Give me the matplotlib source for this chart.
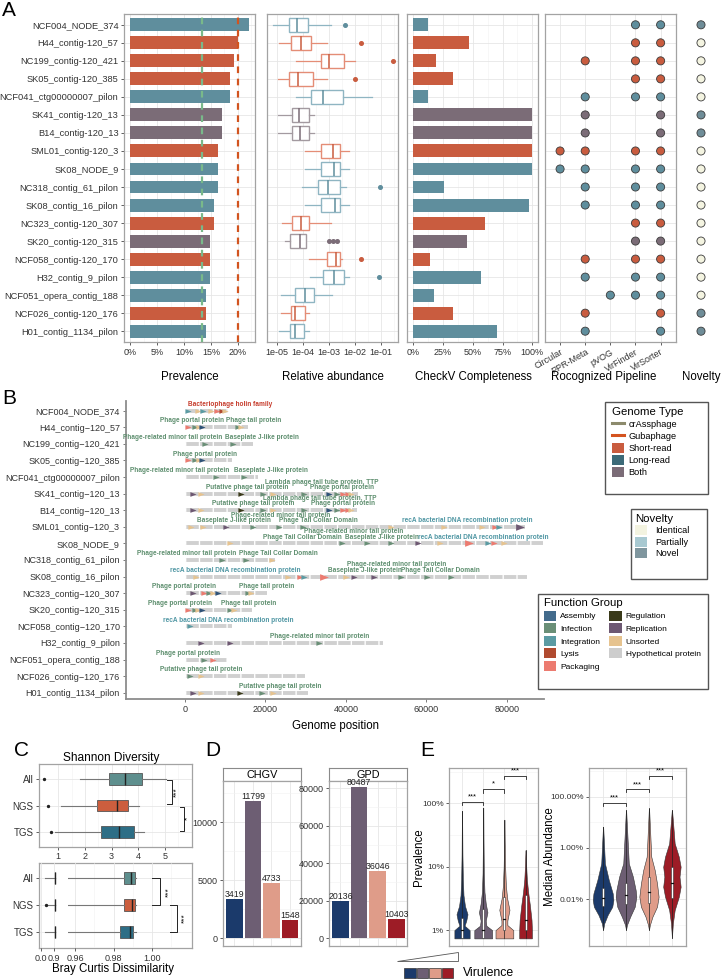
import numpy as np
import matplotlib.pyplot as plt
from matplotlib.patches import Patch, Polygon, Rectangle
from matplotlib.lines import Line2D
from matplotlib.ticker import FixedLocator, NullFormatter

plt.rcParams['font.family'] = ['Liberation Sans', 'DejaVu Sans']

W, H = 722, 980

# ---------------- data: panel A ----------------
contigs = ['NCF004_NODE_374', 'H44_contig-120_57', 'NC199_contig-120_421', 'SK05_contig-120_385',
           'NCF041_ctg00000007_pilon', 'SK41_contig-120_13', 'B14_contig-120_13', 'SML01_contig-120_3',
           'SK08_NODE_9', 'NC318_contig_61_pilon', 'SK08_contig_16_pilon', 'NC323_contig-120_307',
           'SK20_contig-120_315', 'NCF058_contig-120_170', 'H32_contig_9_pilon', 'NCF051_opera_contig_188',
           'NCF026_contig-120_176', 'H01_contig_1134_pilon']
seq_type = ['Long-read', 'Short-read', 'Short-read', 'Short-read', 'Long-read', 'Both', 'Both',
            'Short-read', 'Long-read', 'Long-read', 'Long-read', 'Short-read', 'Both', 'Short-read',
            'Long-read', 'Long-read', 'Short-read', 'Long-read']
prevalence = [22.1, 20.0, 19.2, 18.5, 18.5, 17.0, 17.0, 16.3, 16.3, 16.3, 15.5, 15.5, 14.8, 14.8,
              14.8, 14.1, 14.1, 14.1]
crass_cut = 13.4
guba_cut = 20.0

# relative abundance box stats (log10)
ab_whislo = [-5.14, -4.91, -4.27, -4.95, -4.27, -4.97, -4.95, -3.91, -3.92, -4.04, -3.92, -4.82,
             -4.68, -3.78, -3.72, -4.83, -4.86, -4.91]
ab_q1 = [-4.53, -4.47, -3.32, -4.55, -3.69, -4.41, -4.43, -3.31, -3.30, -3.41, -3.30, -4.42,
         -4.50, -3.07, -3.24, -4.30, -4.47, -4.49]
ab_med = [-4.22, -4.07, -3.01, -4.17, -3.22, -4.14, -4.13, -2.85, -2.80, -3.04, -2.78, -4.09,
          -4.12, -2.73, -2.82, -3.93, -4.30, -4.30]
ab_q3 = [-3.81, -3.70, -2.40, -3.63, -2.47, -3.78, -3.78, -2.57, -2.57, -2.58, -2.57, -3.78,
         -3.88, -2.57, -2.41, -3.59, -3.93, -3.95]
ab_whishi = [-2.92, -3.09, -2.01, -3.09, -1.33, -3.58, -3.58, -2.22, -2.22, -2.35, -2.22, -2.92,
             -3.88, -2.50, -2.24, -2.88, -3.78, -3.78]
ab_fliers = [[-2.37], [-1.77], [-0.55], [-2.0], [], [], [], [], [], [-1.04], [], [],
             [-3.01, -2.86, -2.70], [-1.78], [-1.09], [], [], []]

checkv = [12.8, 47, 19.4, 33.6, 12.8, 100, 100, 100, 100, 26.2, 97.5, 60, 45, 14, 57, 17, 33, 70]

pipelines = ['Circular', 'PPR-Meta', 'pVOG', 'VirFinder', 'VirSorter']
pipeline_hits = [
    [0, 0, 0, 1, 1], [0, 0, 0, 1, 1], [0, 1, 0, 1, 1], [0, 0, 0, 1, 1], [0, 1, 0, 1, 1],
    [0, 1, 0, 0, 1], [0, 1, 0, 0, 1], [1, 1, 0, 1, 1], [1, 1, 0, 1, 1], [0, 1, 0, 1, 1],
    [0, 1, 0, 1, 1], [0, 0, 0, 1, 1], [0, 0, 0, 1, 1], [0, 1, 0, 1, 1], [0, 1, 0, 1, 1],
    [0, 0, 1, 1, 1], [0, 1, 0, 0, 1], [0, 1, 0, 0, 1]]
novelty = ['Novel', 'Identical', 'Identical', 'Identical', 'Identical', 'Novel', 'Novel',
           'Identical', 'Identical', 'Identical', 'Identical', 'Identical', 'Identical',
           'Identical', 'Identical', 'Identical', 'Novel', 'Novel']

# ---------------- data: panel B ----------------
genome_len_kb = [10.8, 15.8, 17.0, 11.7, 18.3, 43.0, 42.7, 84.5, 89.0, 22.4, 85.0, 20.4, 16.6,
                 11.7, 49.3, 10.4, 29.9, 30.6]
genes = [
    [(0.9, 'Integration'), (3.4, 'Unsorted'), (4.5, 'Integration'), (6.5, 'Unsorted'),
     (7.9, 'Packaging'), (9.2, 'Lysis'), (10.0, 'Unsorted')],
    [(0.9, 'Packaging'), (2.6, 'Infection'), (3.6, 'Unsorted'), (4.4, 'Assembly'),
     (13.1, 'Infection'), (13.9, 'Unsorted')],
    [(5.0, 'Infection'), (12.1, 'Infection')],
    [(0.9, 'Packaging'), (2.6, 'Infection'), (3.6, 'Unsorted'), (4.4, 'Assembly')],
    [(7.8, 'Infection'), (14.8, 'Infection')],
    [(2.1, 'Replication'), (4.0, 'Unsorted'), (13.9, 'Regulation'), (19.5, 'Infection'),
     (22.0, 'Unsorted'), (29.5, 'Infection'), (35.9, 'Assembly'), (37.9, 'Infection'),
     (39.2, 'Packaging'), (40.5, 'Packaging'), (41.3, 'Unsorted')],
    [(2.1, 'Replication'), (4.0, 'Unsorted'), (13.9, 'Regulation'), (19.5, 'Infection'),
     (22.0, 'Unsorted'), (29.5, 'Infection'), (35.9, 'Assembly'), (37.9, 'Infection'),
     (39.2, 'Packaging'), (40.5, 'Packaging'), (41.3, 'Unsorted')],
    [(1.6, 'Unsorted'), (4.6, 'Unsorted'), (10.3, 'Replication'), (16.9, 'Infection'),
     (23.5, 'Infection'), (29.3, 'Infection'), (51.2, 'Unsorted'), (64.3, 'Unsorted'),
     (73.8, 'Unsorted'), (77.1, 'Packaging'), (78.1, 'Integration'), (83.3, 'Replication', 2)],
    [(11.3, 'Unsorted'), (39.0, 'Infection'), (45.2, 'Infection'), (51.2, 'Infection'),
     (58.0, 'Replication'), (63.3, 'Unsorted'), (70.5, 'Packaging', 2), (75.4, 'Integration'),
     (76.7, 'Packaging'), (79.2, 'Unsorted')],
    [(9.2, 'Infection'), (15.2, 'Infection'), (21.6, 'Unsorted')],
    [(2.8, 'Unsorted'), (25.7, 'Unsorted'), (28.6, 'Packaging'), (29.7, 'Integration'),
     (34.6, 'Packaging', 2), (40.1, 'Unsorted'), (41.9, 'Replication'), (46.9, 'Replication'),
     (53.7, 'Infection'), (60.1, 'Infection'), (66.2, 'Infection')],
    [(2.0, 'Replication'), (4.8, 'Packaging'), (6.1, 'Infection'), (7.1, 'Unsorted'),
     (8.2, 'Assembly'), (15.7, 'Infection'), (16.5, 'Unsorted')],
    [(0.7, 'Packaging'), (2.6, 'Infection'), (3.2, 'Unsorted'), (4.2, 'Assembly'),
     (11.3, 'Infection'), (12.3, 'Unsorted')],
    [(1.3, 'Integration')],
    [(4.0, 'Replication'), (11.3, 'Replication'), (33.4, 'Infection')],
    [(4.8, 'Infection'), (6.9, 'Packaging')],
    [(1.3, 'Infection'), (4.0, 'Unsorted')],
    [(2.1, 'Replication'), (4.0, 'Unsorted'), (13.7, 'Regulation'), (19.1, 'Infection'),
     (22.0, 'Unsorted')],
]
gene_labels = [
    [(11.3, 'Bacteriophage holin family', 1)],
    [(1.7, 'Phage portal protein', 1), (17.0, 'Phage tail protein', 1)],
    [(-2.9, 'Phage-related minor tail protein', 1), (19.1, 'Baseplate J-like protein', 1)],
    [(5.0, 'Phage portal protein', 1)],
    [(-1.2, 'Phage-related minor tail protein', 1), (21.4, 'Baseplate J-like protein', 1)],
    [(15.4, 'Putative phage tail protein', 1), (34.0, 'Lambda phage tail tube protein, TTP', 2),
     (39.0, 'Phage portal protein', 1)],
    [(17.0, 'Putative phage tail protein', 1), (33.6, 'Lambda phage tail tube protein, TTP', 2),
     (39.2, 'Phage portal protein', 1)],
    [(12.1, 'Baseplate J-like protein', 1), (23.7, 'Phage-related minor tail protein', 2),
     (33.2, 'Phage Tail Collar Domain', 1), (70.1, 'recA bacterial DNA recombination protein', 1)],
    [(29.1, 'Phage Tail Collar Domain', 1), (41.9, 'Phage-related minor tail protein', 2),
     (48.9, 'Baseplate J-like protein', 1), (74.2, 'recA bacterial DNA recombination protein', 1)],
    [(0.5, 'Phage-related minor tail protein', 1), (23.3, 'Phage Tail Collar Domain', 1)],
    [(12.5, 'recA bacterial DNA recombination protein', 1), (44.8, 'Baseplate J-like protein', 1),
     (52.7, 'Phage-related minor tail protein', 2), (63.5, 'Phage Tail Collar Domain', 1)],
    [(-0.3, 'Phage portal protein', 1), (20.4, 'Phage tail protein', 1)],
    [(-1.2, 'Phage portal protein', 1), (15.8, 'Phage tail protein', 1)],
    [(10.8, 'recA bacterial DNA recombination protein', 1)],
    [(33.6, 'Phage-related minor tail protein', 1)],
    [(0.9, 'Phage portal protein', 1)],
    [(4.0, 'Putative phage tail protein', 1)],
    [(23.7, 'Putative phage tail protein', 1)],
]

# ---------------- data: panel C ----------------
groups = ['All', 'NGS', 'TGS']
sh_whislo = [1.81, 1.09, 0.88]
sh_q1 = [2.91, 2.47, 2.62]
sh_med = [3.51, 3.22, 3.29]
sh_q3 = [4.14, 3.62, 3.82]
sh_whishi = [5.03, 4.03, 4.20]
sh_fliers = [[0.46], [0.63], [0.72]]

bc_whislo = [0.28, 0.38, 0.28]
bc_q1 = [0.9852, 0.9852, 0.9835]
bc_med = [0.9892, 0.9899, 0.9884]
bc_q3 = [0.9910, 0.9913, 0.9904]
bc_whishi = [0.9917, 0.9919, 0.9917]
bc_fliers = [[], [0.33], []]

# ---------------- data: panel D ----------------
vir_levels = ['1', '2', '3', '4']
chgv_counts = [3419, 11799, 4733, 1548]
gpd_counts = [20136, 80487, 36046, 10403]

# ---------------- data: panel E (violin outlines, log10) ----------------
prev_levels = [
    [-2.13, -2.0, -1.93, -1.85, -1.75, -1.62, -1.45, -1.2, -0.8, -0.12],
    [-2.13, -2.0, -1.93, -1.85, -1.72, -1.58, -1.4, -1.1, -0.6, -0.07],
    [-2.13, -2.0, -1.92, -1.85, -1.68, -1.5, -1.3, -1.0, -0.6, -0.26],
    [-2.13, -2.0, -1.84, -1.6, -1.4, -1.2, -1.0, -0.74],
]
prev_width = [
    [0.36, 0.36, 0.12, 0.2, 0.26, 0.14, 0.07, 0.04, 0.02, 0.005],
    [0.42, 0.42, 0.15, 0.12, 0.2, 0.12, 0.06, 0.03, 0.015, 0.005],
    [0.42, 0.42, 0.14, 0.14, 0.24, 0.13, 0.07, 0.035, 0.015, 0.005],
    [0.3, 0.3, 0.28, 0.2, 0.12, 0.06, 0.03, 0.005],
]
prev_box = [(-2.13, -2.0, -1.81), (-2.13, -2.0, -1.66), (-2.0, -1.82, -1.47), (-2.0, -1.84, -1.45)]

abun_levels = [
    [-5.2, -4.94, -4.61, -4.29, -4.03, -3.77, -3.25, -2.6, -1.17],
    [-5.2, -5.0, -4.68, -4.29, -3.9, -3.64, -3.12, -2.6, -0.52],
    [-5.2, -5.0, -4.68, -4.29, -3.9, -3.38, -2.86, -2.34, -0.45],
    [-5.52, -4.94, -4.42, -3.9, -3.51, -3.12, -2.73, -2.34, -1.82, -0.52],
]
abun_width = [
    [0.0, 0.05, 0.2, 0.4, 0.45, 0.42, 0.25, 0.08, 0.005],
    [0.0, 0.04, 0.18, 0.38, 0.45, 0.42, 0.3, 0.12, 0.005],
    [0.0, 0.04, 0.15, 0.35, 0.42, 0.35, 0.25, 0.1, 0.005],
    [0.0, 0.04, 0.12, 0.3, 0.38, 0.33, 0.38, 0.3, 0.12, 0.005],
]
abun_box = [(-4.26, -3.96, -3.57), (-4.18, -3.83, -3.38), (-4.13, -3.70, -3.12), (-3.96, -3.38, -2.75)]

# ---------------- colours ----------------
bar_col = {'Short-read': '#c95c3f', 'Long-read': '#5f8e9d', 'Both': '#7b6c77'}
box_light = {'Short-read': '#e48d76', 'Long-read': '#8fb5c2', 'Both': '#a39aa0'}
legend_type_col = {'Short-read': '#c95c3f', 'Long-read': '#3c6a78', 'Both': '#7b6c77'}
nov_col = {'Identical': '#f4f4e1', 'Partially': '#a8c9d1', 'Novel': '#6f8d98'}
nov_leg_col = {'Identical': '#f3f3e0', 'Partially': '#a8c9d1', 'Novel': '#7f969e'}
fg_col = {'Assembly': '#2f5378', 'Infection': '#6a8f77', 'Integration': '#5b9ba3',
          'Lysis': '#b04a2f', 'Packaging': '#ec7b70', 'Regulation': '#3a3a1a',
          'Replication': '#6d5872', 'Unsorted': '#e6c38f', 'Hypothetical protein': '#cdcdcd'}
fg_leg_col = dict(fg_col, Assembly='#436b8c')
vir_col = ['#1b3a6b', '#6d5e73', '#df9c89', '#9d1c26']

fig = plt.figure(figsize=(7.22, 9.8), dpi=100)


def add_ax(l, t, r, b):
    return fig.add_axes([l / W, 1 - b / H, (r - l) / W, (b - t) / H])


def ftext(x, y, s, **kw):
    fig.text(x / W, 1 - y / H, s, **kw)


def bw(ax):
    ax.set_facecolor('white')
    for sp in ax.spines.values():
        sp.set_color('#a3a3a3')
        sp.set_linewidth(0.9)
    ax.grid(True, which='major', color='#e6e6e6', lw=0.6)
    ax.grid(True, which='minor', color='#f2f2f2', lw=0.4)
    ax.set_axisbelow(True)
    ax.tick_params(which='major', length=2.5, width=0.6, color='#444444', labelsize=6.5,
                   labelcolor='#333333', pad=1.5)
    ax.tick_params(which='minor', length=0)


n = len(contigs)
ypos = np.arange(n)
ylimA = (n - 0.4, -0.6)

# ---------- A: prevalence ----------
axP = add_ax(124, 14, 255, 342)
bw(axP)
axP.barh(ypos, prevalence, height=0.72, color=[bar_col[t] for t in seq_type], zorder=2)
axP.axvline(crass_cut, color='#79b98a', lw=1.6, dashes=(3, 2.5), zorder=3)
axP.axvline(guba_cut, color='#d2541f', lw=1.6, dashes=(3, 2.5), zorder=3)
axP.set_xlim(-1.2, 23.2)
axP.set_ylim(*ylimA)
axP.set_xticks([0, 5, 10, 15, 20])
axP.set_xticklabels(['0%', '5%', '10%', '15%', '20%'])
axP.xaxis.set_minor_locator(FixedLocator([2.5, 7.5, 12.5, 17.5, 22.5]))
axP.set_yticks(ypos)
axP.set_yticklabels(contigs, fontsize=6.7)

# ---------- A: relative abundance ----------
axR = add_ax(267.3, 14, 398.3, 342)
bw(axR)
ab_stats = []
for i in range(n):
    ab_stats.append(dict(whislo=10 ** ab_whislo[i], q1=10 ** ab_q1[i], med=10 ** ab_med[i],
                         q3=10 ** ab_q3[i], whishi=10 ** ab_whishi[i],
                         fliers=[10 ** f for f in ab_fliers[i]]))
bp = axR.bxp(ab_stats, positions=ypos, orientation='horizontal', widths=0.75,
             showcaps=False, patch_artist=True)
for i, t in enumerate(seq_type):
    bp['boxes'][i].set(facecolor='white', edgecolor=box_light[t], lw=1.0)
    bp['medians'][i].set(color=bar_col[t], lw=1.1)
    for w in bp['whiskers'][2 * i:2 * i + 2]:
        w.set(color=box_light[t], lw=0.9)
    bp['fliers'][i].set(marker='o', markerfacecolor=bar_col[t], markeredgecolor=bar_col[t],
                        markersize=2.6)
axR.set_xscale('log')
axR.set_xlim(10 ** -5.37, 10 ** -0.33)
axR.set_xticks([1e-5, 1e-4, 1e-3, 1e-2, 1e-1])
axR.set_xticklabels(['1e-05', '1e-04', '1e-03', '1e-02', '1e-01'])
axR.xaxis.set_minor_locator(FixedLocator([10 ** (k + 0.5) for k in range(-6, 0)]))
axR.xaxis.set_minor_formatter(NullFormatter())
axR.set_ylim(*ylimA)
axR.set_yticks(ypos)
axR.tick_params(axis='y', length=0, labelleft=False)

# ---------- A: CheckV ----------
axC = add_ax(407.3, 14, 538.3, 342)
bw(axC)
axC.barh(ypos, checkv, height=0.72, color=[bar_col[t] for t in seq_type], zorder=2)
axC.set_xlim(-5, 105)
axC.set_ylim(*ylimA)
axC.set_xticks([0, 25, 50, 75, 100])
axC.set_xticklabels(['0%', '25%', '50%', '75%', '100%'])
axC.xaxis.set_minor_locator(FixedLocator([12.5, 37.5, 62.5, 87.5]))
axC.set_yticks(ypos)
axC.tick_params(axis='y', length=0, labelleft=False)

# ---------- A: pipelines ----------
axV = add_ax(545, 14, 675.7, 342)
bw(axV)
px, py, pc = [], [], []
for i, row in enumerate(pipeline_hits):
    for j, v in enumerate(row):
        if v:
            px.append(j)
            py.append(i)
            pc.append(bar_col[seq_type[i]])
axV.scatter(px, py, s=34, c=pc, edgecolors='#3a3a3a', linewidths=0.6, zorder=3)
axV.set_xlim(-0.6, 4.6)
axV.set_ylim(*ylimA)
axV.set_xticks(range(len(pipelines)))
axV.set_xticklabels(pipelines, rotation=30, ha='right', va='top', rotation_mode='anchor')
axV.set_yticks(ypos)
axV.tick_params(axis='y', length=0, labelleft=False)

# ---------- A: novelty ----------
axN = add_ax(688, 14, 714, 342)
axN.axis('off')
axN.scatter(np.zeros(n), ypos, s=34, c=[nov_col[v] for v in novelty], edgecolors='#3a3a3a',
            linewidths=0.6)
axN.set_xlim(-1, 1)
axN.set_ylim(*ylimA)

for x, s in [(190, 'Prevalence'), (333, 'Relative abundance'), (473, 'CheckV Completeness'),
             (604, 'Rocognized Pipeline'), (701.7, 'Novelty')]:
    ftext(x, 377, s, ha='center', va='center', fontsize=8.3)

# ---------- B: genome maps ----------
axB = add_ax(126, 401, 544, 699)
for i, L in enumerate(genome_len_kb):
    axB.plot([0, L * 1000], [i, i], color='#d0d0d0', lw=2.8, solid_capstyle='butt', zorder=1)
    axB.plot([0, L * 1000], [i, i], color='white', lw=2.8, dashes=(0.35, 3.2), zorder=1.5)
    for g in genes[i]:
        f = g[2] if len(g) > 2 else 1
        axB.scatter(g[0] * 1000, i, marker=[(-1, -0.75), (1, 0), (-1, 0.75)], s=20 * f,
                    color=fg_col[g[1]], linewidths=0, zorder=3)
    for kb, txt, lev in gene_labels[i]:
        if txt.startswith('recA'):
            c = '#4f96a3'
        elif txt.startswith('Bacteriophage'):
            c = '#c63c2c'
        else:
            c = '#5e8f6f'
        axB.text(kb * 1000, i - (0.38 if lev == 1 else 0.7), txt, fontsize=4.7, fontweight='bold',
                 color=c, ha='center', va='center', zorder=4)
axB.set_xlim(-14584, 89190)
axB.set_ylim(n - 1 + 0.38, -0.585)
for s in ['top', 'right']:
    axB.spines[s].set_visible(False)
for s in ['left', 'bottom']:
    axB.spines[s].set_color('#8c8c8c')
    axB.spines[s].set_linewidth(1.3)
axB.set_yticks(ypos)
axB.set_yticklabels([c.replace('-', '\u2212') for c in contigs], fontsize=6.7)
axB.set_xticks([0, 20000, 40000, 60000, 80000])
axB.set_xticklabels(['0', '20000', '40000', '60000', '80000'])
axB.tick_params(length=2.5, width=0.6, color='#666666', labelsize=6.5, labelcolor='#333333', pad=2)
axB.set_xlabel('Genome position', fontsize=8.3, labelpad=4)


# legends: frameless legend + hand-drawn box (ggplot style boxes with extra right margin)
def legend_box(l, t, r, b):
    fig.patches.append(Rectangle((l / W, 1 - b / H), (r - l) / W, (b - t) / H,
                                 transform=fig.transFigure, fill=False, edgecolor='#555555',
                                 lw=1.0, zorder=5))


leg_kw = dict(loc='upper left', title_fontsize=8.2, frameon=False, alignment='left',
              borderpad=0, borderaxespad=0)
legend_box(605, 402.3, 707.7, 494)
fig.legend(handles=[Line2D([], [], color='#8c8a6c', lw=2.2),
                    Line2D([], [], color='#d4531f', lw=2.2)] +
           [Patch(facecolor=legend_type_col[k]) for k in ['Short-read', 'Long-read', 'Both']],
           labels=['crAssphage', 'Gubaphage', 'Short-read', 'Long-read', 'Both'],
           title='Genome Type', bbox_to_anchor=(612 / W, 1 - 407 / H), fontsize=6.6,
           handlelength=1.3, handleheight=1.3, labelspacing=0.22, handletextpad=0.5, **leg_kw)
nov_names = ['Identical', 'Partially', 'Novel']
legend_box(630.7, 509, 707.3, 579.3)
fig.legend(handles=[Patch(facecolor=nov_leg_col[k]) for k in nov_names], labels=nov_names,
           title='Novelty', bbox_to_anchor=(635 / W, 1 - 514 / H), fontsize=6.6,
           handlelength=1.3, handleheight=1.3, labelspacing=0.15, handletextpad=0.9, **leg_kw)
fg_names = list(fg_col.keys())
legend_box(538.3, 594, 707.7, 689.3)
fig.legend(handles=[Patch(facecolor=fg_leg_col[k]) for k in fg_names], labels=fg_names,
           title='Function Group', ncol=2, bbox_to_anchor=(544 / W, 1 - 598 / H), fontsize=6.0,
           handlelength=1.45, handleheight=1.45, labelspacing=0.32, handletextpad=0.5,
           columnspacing=1.1, **leg_kw)

# ---------- C: Shannon ----------
grp_col = ['#5e8f8e', '#cc5e3e', '#2d6e86']


def style_box(bp, cols):
    for i, c in enumerate(cols):
        bp['boxes'][i].set(facecolor=c, edgecolor='#555555', lw=0.6)
        bp['medians'][i].set(color='#222222', lw=1.0)
        for w in bp['whiskers'][2 * i:2 * i + 2]:
            w.set(color='#777777', lw=0.8)
        bp['fliers'][i].set(marker='o', markerfacecolor='#222222', markeredgecolor='#222222',
                            markersize=1.4)


axS = add_ax(39, 764.3, 191.7, 846.7)
bw(axS)
sh_stats = [dict(whislo=sh_whislo[i], q1=sh_q1[i], med=sh_med[i], q3=sh_q3[i],
                 whishi=sh_whishi[i], fliers=sh_fliers[i]) for i in range(3)]
bp = axS.bxp(sh_stats, positions=[0, 1, 2], orientation='horizontal', widths=0.45,
             patch_artist=True, showcaps=False)
style_box(bp, grp_col)
axS.set_xlim(0.28, 6.0)
axS.set_ylim(2.55, -0.55)
axS.set_xticks([1, 2, 3, 4, 5])
axS.xaxis.set_minor_locator(FixedLocator([1.5, 2.5, 3.5, 4.5, 5.5]))
axS.set_yticks([0, 1, 2])
axS.set_yticklabels(groups, fontsize=7)
axS.plot([5.06, 5.27, 5.27, 5.06], [0.05, 0.05, 0.95, 0.95], color='#222222', lw=0.7)
axS.text(5.44, 0.5, '***', rotation=90, ha='center', va='center', fontsize=6)
axS.plot([5.56, 5.71, 5.71, 5.56], [1.05, 1.05, 1.95, 1.95], color='#222222', lw=0.7)
axS.text(5.87, 1.5, '*', rotation=90, ha='center', va='center', fontsize=6)
ftext(111.7, 757.5, 'Shannon Diversity', ha='center', va='center', fontsize=8.6)

# ---------- C: Bray Curtis (broken axis) ----------
axBo = add_ax(39, 863.3, 191.7, 948.3)
axBo.set_xticks([])
axBo.set_yticks([])
for sp in axBo.spines.values():
    sp.set_color('#a3a3a3')
    sp.set_linewidth(0.9)
bc_stats = [dict(whislo=bc_whislo[i], q1=bc_q1[i], med=bc_med[i], q3=bc_q3[i],
                 whishi=bc_whishi[i], fliers=bc_fliers[i]) for i in range(3)]
axBL = add_ax(39, 863.3, 56.7, 948.3)
axBR = add_ax(68.3, 863.3, 191.7, 948.3)
for ax in (axBL, axBR):
    bw(ax)
    ax.patch.set_alpha(0)
    for sp in ax.spines.values():
        sp.set_visible(False)
    bpx = ax.bxp(bc_stats, positions=[0, 1, 2], orientation='horizontal', widths=0.45,
                 patch_artist=True, showcaps=False)
    style_box(bpx, grp_col)
    ax.set_ylim(2.62, -0.56)
    ax.set_yticks([0, 1, 2])
axBL.set_xlim(-0.14, 1.09)
axBL.set_xticks([0, 0.9])
axBL.set_xticklabels(['0.0', '0.9'])
axBL.set_yticklabels(groups, fontsize=7)
axBR.set_xlim(0.9563, 1.0209)
axBR.set_xticks([0.96, 0.98, 1.00])
axBR.set_xticklabels(['0.96', '0.98', '1.00'])
axBR.xaxis.set_minor_locator(FixedLocator([0.97, 0.99, 1.01]))
axBR.tick_params(axis='y', length=0, labelleft=False)
axBR.plot([1.0001, 1.0044, 1.0044, 1.0001], [0, 0, 1, 1], color='#222222', lw=0.7)
axBR.text(1.0087, 0.5, '***', rotation=90, ha='center', va='center', fontsize=6)
axBR.plot([1.0096, 1.0131, 1.0131, 1.0096], [1, 1, 2, 2], color='#222222', lw=0.7)
axBR.text(1.0174, 1.5, '***', rotation=90, ha='center', va='center', fontsize=6)
ftext(113, 969, 'Bray Curtis Dissimilarity', ha='center', va='center', fontsize=8.3)

# ---------- D: facets ----------
for l, r, name, vals, ylim, ticks in [
        (223.3, 301, 'CHGV', chgv_counts, (-660, 13560), [0, 5000, 10000]),
        (329.3, 407.3, 'GPD', gpd_counts, (-4100, 83900), [0, 20000, 40000, 60000, 80000])]:
    st = add_ax(l, 768.3, r, 781)
    st.set_xticks([])
    st.set_yticks([])
    for sp in st.spines.values():
        sp.set_color('#8a8a8a')
        sp.set_linewidth(0.8)
    st.text(0.5, 0.45, name, ha='center', va='center', fontsize=7.8, transform=st.transAxes)
    ax = add_ax(l, 781, r, 946)
    bw(ax)
    ax.bar(range(4), vals, width=0.9, color=vir_col, zorder=2)
    for k, v in enumerate(vals):
        ax.text(k, v, str(v), ha='center', va='bottom', fontsize=6.3, color='#222222')
    ax.set_xlim(-0.6, 3.6)
    ax.set_ylim(*ylim)
    ax.set_xticks(range(4))
    ax.tick_params(axis='x', length=0, labelbottom=False)
    ax.set_yticks(ticks)
    ax.yaxis.set_minor_locator(FixedLocator([(a + b) / 2 for a, b in zip(ticks[:-1], ticks[1:])] +
                                            [ticks[-1] + (ticks[1] - ticks[0]) / 2]))

# ---------- E: violins ----------


def violin_panel(ax, levels, widths, boxes, ylim_log, yticks, ylabels, minors):
    bw(ax)
    ax.tick_params(which='major', labelsize=6)
    for k in range(4):
        y = 10 ** np.array(levels[k])
        w = np.array(widths[k])
        ax.fill_betweenx(y, k - w, k + w, facecolor=vir_col[k], edgecolor='#333333', lw=0.4,
                         zorder=2)
        ax.plot([k, k], [y[0], y[-1]], color='#222222', lw=0.5, zorder=3)
        lo, md, hi = boxes[k]
        ax.bar(k, 10 ** hi - 10 ** lo, bottom=10 ** lo, width=0.1, color='white',
               edgecolor='#333333', lw=0.4, zorder=4)
        ax.plot([k - 0.05, k + 0.05], [10 ** md, 10 ** md], color='#111111', lw=0.9, zorder=5)
    ax.set_yscale('log')
    ax.set_ylim(10 ** ylim_log[0], 10 ** ylim_log[1])
    ax.set_xlim(-0.6, 3.6)
    ax.set_xticks(range(4))
    ax.tick_params(axis='x', length=0, labelbottom=False)
    ax.set_yticks(yticks)
    ax.set_yticklabels(ylabels)
    ax.yaxis.set_minor_locator(FixedLocator(minors))
    ax.yaxis.set_minor_formatter(NullFormatter())


def sig(ax, x1, x2, ly, txt, d):
    ax.plot([x1, x1, x2, x2], [10 ** (ly - d), 10 ** ly, 10 ** ly, 10 ** (ly - d)],
            color='#222222', lw=0.6, clip_on=False)
    ax.text((x1 + x2) / 2, 10 ** (ly + d * 0.4), txt, ha='center', va='bottom', fontsize=5.5)


axEL = add_ax(449.3, 767.7, 538.3, 946)
violin_panel(axEL, prev_levels, prev_width, prev_box, (-2.25, 0.56), [0.01, 0.1, 1.0],
             ['1%', '10%', '100%'], [10 ** -1.5, 10 ** -0.5, 10 ** 0.5])
sig(axEL, 0, 1, 0.027, '***', 0.06)
sig(axEL, 1, 2, 0.227, '*', 0.06)
sig(axEL, 2, 3, 0.437, '***', 0.06)
ftext(419.5, 857, 'Prevalence', rotation=90, ha='center', va='center', fontsize=8.3)

axER = add_ax(589.3, 767.7, 685.7, 946)
violin_panel(axER, abun_levels, abun_width, abun_box, (-5.82, 1.13), [1e-4, 1e-2, 1.0],
             ['0.01%', '1.00%', '100.00%'], [1e-5, 1e-3, 1e-1, 10])
sig(axER, 0, 1, -0.23, '***', 0.12)
sig(axER, 1, 2, 0.29, '***', 0.12)
sig(axER, 2, 3, 0.81, '***', 0.12)
ftext(550, 857, 'Median Abundance', rotation=90, ha='center', va='center', fontsize=8.3)

# virulence key
axK = add_ax(390, 946, 545, 980)
axK.axis('off')
axK.set_xlim(390, 545)
axK.set_ylim(980, 946)
axK.add_patch(Polygon([(396.7, 961), (458.3, 961), (458.3, 952)], closed=True,
                      facecolor='white', edgecolor='#555555', lw=0.6))
for k, c in enumerate(vir_col):
    axK.add_patch(Rectangle((404 + 12.6 * k, 967.5), 11.5, 10, facecolor=c, edgecolor='#333333',
                            lw=0.5))
ftext(463.3, 973, 'Virulence', ha='left', va='center', fontsize=8.8)

# panel letters
for x, y, s in [(2, 10, 'A'), (2, 399, 'B'), (14, 750, 'C'), (205, 750, 'D'), (420, 750, 'E')]:
    ftext(x, y, s, ha='left', va='center', fontsize=15)

fig.savefig('out.png', dpi=100)
